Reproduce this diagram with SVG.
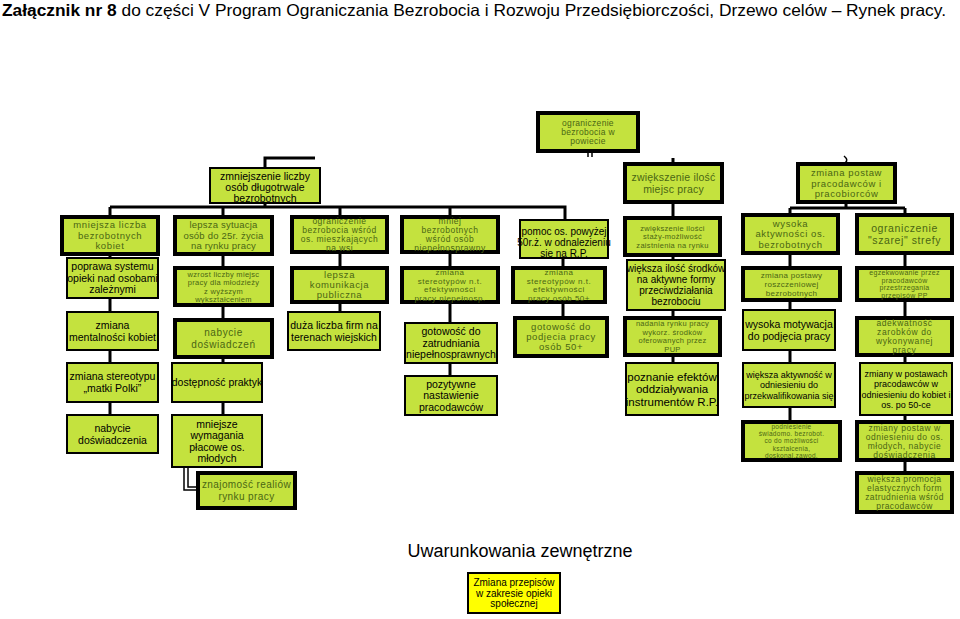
<svg xmlns="http://www.w3.org/2000/svg" width="960" height="619" viewBox="0 0 960 619">
<style>
.bg{fill:#fff}
.bx{fill:#c4e23e;stroke:#000;stroke-width:2}
.tk{stroke-width:4}
.ye{fill:#ffff00;stroke:#000;stroke-width:2}
text{font-family:"Liberation Sans",Arial,sans-serif;text-anchor:middle}
.k{fill:#000;font-size:10.5px}
.g{fill:#4a6614;font-size:9.5px;letter-spacing:0.6px}
.s{fill:#4a6614;font-size:7.5px;letter-spacing:0.3px}
.ln{stroke:#000;stroke-width:3;fill:none}
.st{stroke:#000;stroke-width:1.5;fill:none}
</style>
<rect class="bg" x="0" y="0" width="960" height="619"/>
<text x="2" y="16" style="text-anchor:start;font-size:16.5px" textLength="944" lengthAdjust="spacingAndGlyphs"><tspan font-weight="bold">Załącznik nr 8</tspan> do części V Program Ograniczania Bezrobocia i Rozwoju Przedsiębiorczości, Drzewo celów – Rynek pracy.</text>

<g id="connectors">
<path class="ln" d="M315,158 H265 V168"/>
<path class="st" d="M588,153 V157 M592,153 V157"/>
<path class="ln" d="M673,158 V164"/>
<path class="st" d="M844,156 Q849,160 845,163"/>
<path class="ln" d="M265,203 V207 M110,207 H565 V220 M110,207 V217 M223,207 V217 M340,207 V217 M450,207 V217"/>
<path class="ln" d="M110,254 V415"/>
<path class="ln" d="M223,254 V415"/>
<path class="st" d="M184,467 V490 H198 M188,467 V487 H198"/>
<path class="ln" d="M340,252 V312"/>
<path class="ln" d="M450,252 V376"/>
<path class="ln" d="M563,258 V318"/>
<path class="ln" d="M673,202 V363"/>
<path class="ln" d="M846,202 V208 M790,208 H905 M790,208 V422"/>
<path class="ln" d="M905,208 V473"/>
</g>

<g id="n_root"><rect class="bx tk" x="538" y="113" width="100" height="38"/>
<text class="s" style="font-size:8.5px"><tspan x="588" y="126">ograniczenie</tspan><tspan x="588" y="135">bezrobocia w</tspan><tspan x="588" y="144">powiecie</tspan></text></g>

<g id="n_zmn"><rect class="bx" x="210" y="168" width="110" height="35"/>
<text class="k"><tspan x="265" y="180">zmniejszenie liczby</tspan><tspan x="265" y="191">osób długotrwale</tspan><tspan x="265" y="202">bezrobotnych</tspan></text></g>

<g id="n_miejsc"><rect class="bx tk" x="625" y="164" width="97" height="38"/>
<text class="g" style="font-size:10.5px;letter-spacing:0.2px"><tspan x="673.5" y="180.5">zwiększenie ilość</tspan><tspan x="673.5" y="192.5">miejsc pracy</tspan></text></g>

<g id="n_postaw"><rect class="bx tk" x="798" y="164" width="97" height="38"/>
<text class="g"><tspan x="846.5" y="176">zmiana postaw</tspan><tspan x="846.5" y="186.5">pracodawców i</tspan><tspan x="846.5" y="197">pracobiorców</tspan></text></g>

<g id="n_kob"><rect class="bx tk" x="62" y="217" width="96" height="37"/>
<text class="g"><tspan x="110" y="228">mniejsza liczba</tspan><tspan x="110" y="238.5">bezrobotnych</tspan><tspan x="110" y="249">kobiet</tspan></text></g>

<g id="n_25"><rect class="bx tk" x="175" y="217" width="97" height="37"/>
<text class="g" style="letter-spacing:0.2px"><tspan x="223.5" y="228">lepsza sytuacja</tspan><tspan x="223.5" y="238.5">osób do 25r. życia</tspan><tspan x="223.5" y="249">na rynku pracy</tspan></text></g>

<g id="n_wies"><rect class="bx tk" x="292" y="217" width="95" height="35"/>
<text class="g" style="font-size:8.5px;letter-spacing:0.5px"><tspan x="339.5" y="224">ograniczenie</tspan><tspan x="339.5" y="233">bezrobocia wśród</tspan><tspan x="339.5" y="242">os. mieszkających</tspan><tspan x="339.5" y="251">na wsi</tspan></text></g>

<g id="n_niep"><rect class="bx tk" x="402" y="217" width="96" height="35"/>
<text class="g" style="font-size:8.5px;letter-spacing:0.5px"><tspan x="450" y="224">mniej</tspan><tspan x="450" y="233">bezrobotnych</tspan><tspan x="450" y="242">wśród osób</tspan><tspan x="450" y="251">niepełnosprawny</tspan></text></g>

<g id="n_50"><rect class="bx" x="520" y="220" width="88" height="38"/>
<text class="k" style="font-size:10px"><tspan x="564" y="235">pomoc os. powyżej</tspan><tspan x="564" y="246">50r.ż. w odnalezieniu</tspan><tspan x="564" y="257">się na R.P.</tspan></text></g>

<g id="n_staz"><rect class="bx tk" x="625" y="218" width="95" height="37"/>
<text class="s"><tspan x="672.5" y="230.5">zwiększenie ilości</tspan><tspan x="672.5" y="239">staży-możliwość</tspan><tspan x="672.5" y="247.5">zaistnienia na rynku</tspan></text></g>

<g id="n_akt"><rect class="bx tk" x="743" y="215" width="95" height="38"/>
<text class="g"><tspan x="790.5" y="226.5">wysoka</tspan><tspan x="790.5" y="237">aktywności os.</tspan><tspan x="790.5" y="247.5">bezrobotnych</tspan></text></g>

<g id="n_szar"><rect class="bx tk" x="857" y="215" width="95" height="38"/>
<text class="g" style="font-size:10.5px"><tspan x="904.5" y="231.5">ograniczenie</tspan><tspan x="904.5" y="243.5">"szarej" strefy</tspan></text></g>

<g id="n_opieka"><rect class="bx" x="67" y="258" width="91" height="40"/>
<text class="k"><tspan x="112.5" y="270.2">poprawa systemu</tspan><tspan x="112.5" y="281.7">opieki nad osobami</tspan><tspan x="112.5" y="293.2">zależnymi</tspan></text></g>

<g id="n_wzrost"><rect class="bx tk" x="175" y="268" width="97" height="37"/>
<text class="s"><tspan x="223.5" y="276.5">wzrost liczby miejsc</tspan><tspan x="223.5" y="285">pracy dla młodzieży</tspan><tspan x="223.5" y="293.5">z wyższym</tspan><tspan x="223.5" y="302">wykształceniem</tspan></text></g>

<g id="n_kom"><rect class="bx tk" x="292" y="268" width="95" height="34"/>
<text class="g"><tspan x="339.5" y="278.3">lepsza</tspan><tspan x="339.5" y="288.3">komunikacja</tspan><tspan x="339.5" y="298.3">publiczna</tspan></text></g>

<g id="n_ster"><rect class="bx tk" x="402" y="268" width="96" height="34"/>
<text class="g" style="font-size:8px;letter-spacing:0.5px"><tspan x="450" y="275">zmiana</tspan><tspan x="450" y="283.5">stereotypów n.t.</tspan><tspan x="450" y="292">efektywności</tspan><tspan x="450" y="300.5">pracy niepełnosp.</tspan></text></g>

<g id="n_ster50"><rect class="bx tk" x="513" y="268" width="92" height="34"/>
<text class="g" style="font-size:8px;letter-spacing:0.5px"><tspan x="559" y="275">zmiana</tspan><tspan x="559" y="283.5">stereotypów n.t.</tspan><tspan x="559" y="292">efektywności</tspan><tspan x="559" y="300.5">pracy osób 50+</tspan></text></g>

<g id="n_srodki"><rect class="bx" x="627" y="260" width="98" height="50"/>
<text class="k" style="font-size:10px"><tspan x="676" y="272">większa ilość środków</tspan><tspan x="676" y="283">na aktywne formy</tspan><tspan x="676" y="294">przeciwdziałania</tspan><tspan x="676" y="305">bezrobociu</tspan></text></g>

<g id="n_roszcz"><rect class="bx tk" x="743" y="268" width="97" height="32"/>
<text class="s" style="font-size:8px"><tspan x="791.5" y="277.8">zmiana postawy</tspan><tspan x="791.5" y="286.8">roszczeniowej</tspan><tspan x="791.5" y="295.8">bezrobotnych</tspan></text></g>

<g id="n_egz"><rect class="bx tk" x="857" y="268" width="95" height="32"/>
<text class="s" style="font-size:7px"><tspan x="904.5" y="274.8">egzekwowanie przez</tspan><tspan x="904.5" y="282.6">pracodawców</tspan><tspan x="904.5" y="290.4">przestrzegania</tspan><tspan x="904.5" y="298.2">przepisów PP</tspan></text></g>

<g id="n_ment"><rect class="bx" x="67" y="312" width="91" height="38"/>
<text class="k"><tspan x="112.5" y="328.7">zmiana</tspan><tspan x="112.5" y="340.7">mentalności kobiet</tspan></text></g>

<g id="n_dosw"><rect class="bx tk" x="175" y="320" width="97" height="37"/>
<text class="g" style="font-size:10px"><tspan x="223.5" y="336.3">nabycie</tspan><tspan x="223.5" y="347.8">doświadczeń</tspan></text></g>

<g id="n_firm"><rect class="bx" x="288" y="312" width="92" height="38"/>
<text class="k"><tspan x="334" y="328.7">duża liczba firm na</tspan><tspan x="334" y="340.7">terenach wiejskich</tspan></text></g>

<g id="n_got"><rect class="bx" x="405" y="323" width="92" height="40"/>
<text class="k"><tspan x="451" y="335.2">gotowość do</tspan><tspan x="451" y="346.7">zatrudniania</tspan><tspan x="451" y="358.2">niepełnosprawnych</tspan></text></g>

<g id="n_got50"><rect class="bx tk" x="515" y="318" width="92" height="38"/>
<text class="g"><tspan x="561" y="330.3">gotowość do</tspan><tspan x="561" y="340.3">podjecia pracy</tspan><tspan x="561" y="350.3">osób 50+</tspan></text></g>

<g id="n_pup"><rect class="bx tk" x="625" y="318" width="95" height="37"/>
<text class="s"><tspan x="672.5" y="326.4">nadania rynku pracy</tspan><tspan x="672.5" y="334.9">wykorz. środków</tspan><tspan x="672.5" y="343.4">oferowanych przez</tspan><tspan x="672.5" y="351.9">PUP</tspan></text></g>

<g id="n_motyw"><rect class="bx" x="743" y="310" width="92" height="40"/>
<text class="k"><tspan x="789" y="327.7">wysoka motywacja</tspan><tspan x="789" y="339.7">do podjęcia pracy</tspan></text></g>

<g id="n_adekw"><rect class="bx tk" x="857" y="318" width="95" height="37"/>
<text class="g" style="font-size:8.5px"><tspan x="904.5" y="326">adekwatność</tspan><tspan x="904.5" y="335">zarobków do</tspan><tspan x="904.5" y="344">wykonywanej</tspan><tspan x="904.5" y="353">pracy</tspan></text></g>

<g id="n_matki"><rect class="bx" x="67" y="363" width="91" height="39"/>
<text class="k"><tspan x="112.5" y="380.2">zmiana stereotypu</tspan><tspan x="112.5" y="392.2">„matki Polki”</tspan></text></g>

<g id="n_prakt"><rect class="bx" x="172" y="363" width="90" height="39"/>
<text class="k"><tspan x="217" y="386.2">dostępność praktyk</tspan></text></g>

<g id="n_pozyt"><rect class="bx" x="405" y="376" width="92" height="39"/>
<text class="k"><tspan x="451" y="387.7">pozytywne</tspan><tspan x="451" y="399.2">nastawienie</tspan><tspan x="451" y="410.7">pracodawców</tspan></text></g>

<g id="n_efekt"><rect class="bx" x="626" y="363" width="92" height="52"/>
<text class="k" style="font-size:11.5px"><tspan x="672" y="380.5">poznanie efektów</tspan><tspan x="672" y="393">oddziaływania</tspan><tspan x="672" y="405.5">instrumentów R.P.</tspan></text></g>

<g id="n_przekw"><rect class="bx" x="743" y="363" width="92" height="44"/>
<text class="k" style="font-size:9px"><tspan x="789" y="377.7">większa aktywność  w</tspan><tspan x="789" y="388.2">odniesieniu do</tspan><tspan x="789" y="398.7">przekwalifikowania się</tspan></text></g>

<g id="n_kob50"><rect class="bx" x="860" y="363" width="92" height="52"/>
<text class="k" style="font-size:9px"><tspan x="906" y="376.5">zmiany w postawach</tspan><tspan x="906" y="387">pracodawców w</tspan><tspan x="906" y="397.5">odniesieniu do kobiet i</tspan><tspan x="906" y="408">os. po 50-ce</tspan></text></g>

<g id="n_nabycie"><rect class="bx" x="67" y="415" width="91" height="38"/>
<text class="k"><tspan x="112.5" y="431.7">nabycie</tspan><tspan x="112.5" y="443.7">doświadczenia</tspan></text></g>

<g id="n_plac"><rect class="bx" x="172" y="415" width="90" height="52"/>
<text class="k"><tspan x="217" y="427.5">mniejsze</tspan><tspan x="217" y="439">wymagania</tspan><tspan x="217" y="450.5">płacowe os.</tspan><tspan x="217" y="462">młodych</tspan></text></g>

<g id="n_swiad"><rect class="bx tk" x="743" y="422" width="97" height="38"/>
<text class="s" style="font-size:6.5px"><tspan x="791.5" y="428.9">podniesienie</tspan><tspan x="791.5" y="436.1">świadomo. bezrobot.</tspan><tspan x="791.5" y="443.3">co do możliwości</tspan><tspan x="791.5" y="450.5">kształcenia,</tspan><tspan x="791.5" y="457.7">doskonal.zawod.</tspan></text></g>

<g id="n_mlod"><rect class="bx tk" x="857" y="422" width="95" height="38"/>
<text class="g" style="font-size:8.5px;letter-spacing:0.5px"><tspan x="904.5" y="430.5">zmiany postaw w</tspan><tspan x="904.5" y="439.5">odniesieniu do os.</tspan><tspan x="904.5" y="448.5">młodych, nabycie</tspan><tspan x="904.5" y="457.5">doświadczenia</tspan></text></g>

<g id="n_real"><rect class="bx tk" x="198" y="473" width="97" height="35"/>
<text class="g" style="font-size:10px;letter-spacing:0.4px"><tspan x="246.5" y="488.3">znajomość realiów</tspan><tspan x="246.5" y="499.8">rynku pracy</tspan></text></g>

<g id="n_promo"><rect class="bx tk" x="857" y="473" width="95" height="39"/>
<text class="g" style="font-size:8.5px;letter-spacing:0.4px"><tspan x="904.5" y="482">większa promocja</tspan><tspan x="904.5" y="491">elastycznych form</tspan><tspan x="904.5" y="500">zatrudnienia wśród</tspan><tspan x="904.5" y="509">pracodawców</tspan></text></g>

<text x="520" y="557" style="font-size:18px;fill:#000">Uwarunkowania zewnętrzne</text>

<g id="n_przepisy"><rect class="ye" x="468" y="573" width="92" height="40"/>
<text class="k" style="font-size:10px"><tspan x="514" y="586">Zmiana przepisów</tspan><tspan x="514" y="596.5">w zakresie opieki</tspan><tspan x="514" y="607">społecznej</tspan></text></g>
</svg>
